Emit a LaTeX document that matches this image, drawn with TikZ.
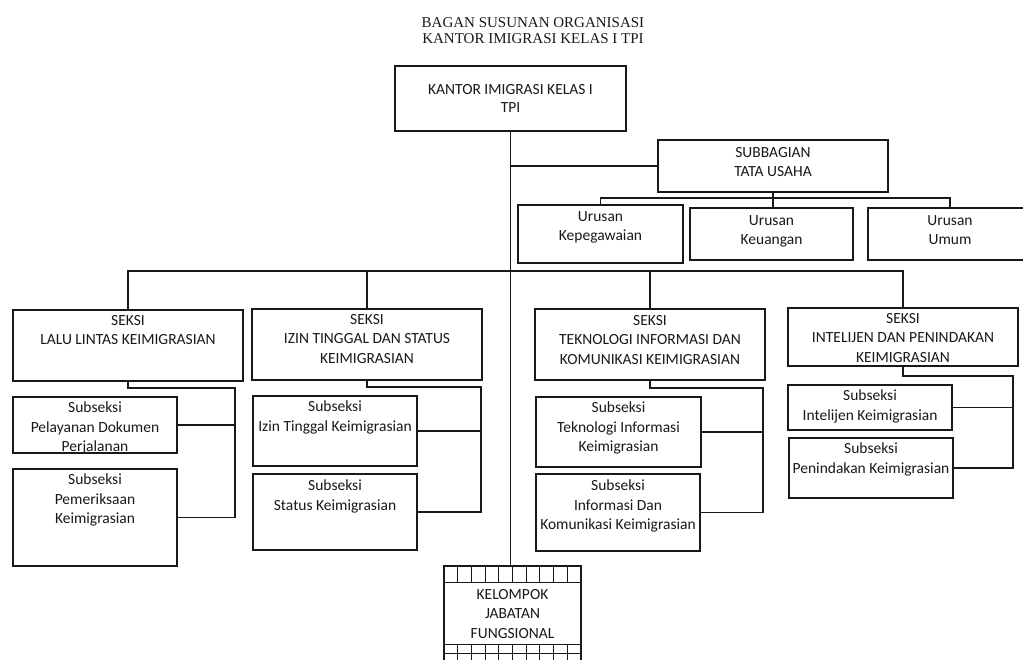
\documentclass[tikz,border=0pt]{standalone}
\usepackage{fontspec}
\setmainfont{Carlito}
\newfontfamily\titlefont{Liberation Serif}
\definecolor{ink}{gray}{0.1}
\newcommand\obox[7][5]{%
  \node[box, minimum width={(#5-#3)*1pt}, minimum height={(#6-#4)*1pt}] (#2) at ({(#3+#5)/2},{(#4+#6)/2}) {};
  \node[lbl] (#2-t) at ([yshift=-#1pt]#2.north) {#7};}
\begin{document}
\begin{tikzpicture}[x=1pt,y=-1pt,
  box/.style={draw=ink, line width=1.4pt, rectangle, inner sep=0pt, outer sep=0pt},
  lbl/.style={inner sep=0pt, align=center, anchor=north, text=ink, font=\fontsize{15.5}{19.5}\selectfont},
  wire/.style={draw=ink, line width=1.1pt},
  ttl/.style={inner sep=0pt, anchor=north, align=center, text=ink, font=\titlefont\fontsize{15}{15.5}\selectfont}]
\useasboundingbox (0,0) rectangle (1023,659);
\fill[white] (0,0) rectangle (1023,659);
\clip (0,0) rectangle (1023,659);

% title
\node[ttl] (title) at (533,17.5) {BAGAN SUSUNAN ORGANISASI\\KANTOR IMIGRASI KELAS I TPI};

% top
\node[box, minimum width=231pt, minimum height=65pt] (top) at (510.5,98.5) {};
\node[lbl, font=\fontsize{15.5}{18}\selectfont] (top-t) at ([yshift=-18pt]top.north) {KANTOR IMIGRASI KELAS I\\TPI};

% subbagian and urusan
\obox[7]{sub}{658}{140}{888}{192}{SUBBAGIAN\\TATA USAHA}
\obox[6]{kep}{518}{205}{683}{263}{Urusan\\Kepegawaian}
\obox[7]{keu}{690}{208}{853}{260}{Urusan\\Keuangan}
\obox[7]{umum}{868}{208}{1032}{260}{Urusan\\Umum}

% seksi
\obox{s1}{13}{310}{243}{381}{SEKSI\\LALU LINTAS KEIMIGRASIAN}
\obox{s2}{252}{309}{482}{380}{SEKSI\\IZIN TINGGAL DAN STATUS\\KEIMIGRASIAN}
\obox[6]{s3}{535}{309}{765}{380}{SEKSI\\TEKNOLOGI INFORMASI DAN\\KOMUNIKASI KEIMIGRASIAN}
\obox{s4}{788}{308}{1018}{366}{SEKSI\\INTELIJEN DAN PENINDAKAN\\KEIMIGRASIAN}

% subseksi
\obox{a1}{13}{397}{177}{453}{Subseksi\\Pelayanan Dokumen\\Perjalanan}
\obox{a2}{13}{469}{177}{566}{Subseksi\\Pemeriksaan\\Keimigrasian}
\obox{b1}{253}{396}{417}{466}{Subseksi\\Izin Tinggal Keimigrasian}
\obox[6]{b2}{253}{474}{417}{550}{Subseksi\\Status Keimigrasian}
\obox{c1}{536}{397}{701}{467}{Subseksi\\Teknologi Informasi\\Keimigrasian}
\obox[6]{c2}{536}{474}{700}{551}{Subseksi\\Informasi Dan\\Komunikasi Keimigrasian}
\obox{d1}{788}{385}{952}{430}{Subseksi\\Intelijen Keimigrasian}
\obox{d2}{789}{438}{953}{498}{Subseksi\\Penindakan Keimigrasian}

% kelompok
\node[box, minimum width=137pt, minimum height=120pt] (kel) at (512.5,626) {};
\foreach \k in {1,...,9} {
  \draw[wire, line width=1pt] ({444+\k*13.7},566) -- ({444+\k*13.7},582);
  \draw[wire, line width=1pt] ({444+\k*13.7},644) -- ({444+\k*13.7},686);
}
\draw[wire, line width=1pt] (kel.west |- 0,582) -- (kel.east |- 0,582);
\draw[wire, line width=1pt] (kel.west |- 0,644) -- (kel.east |- 0,644);
\draw[wire, line width=1pt] (kel.west |- 0,653) -- (kel.east |- 0,653);
\node[lbl] (kel-t) at (512.5,589) {KELOMPOK\\JABATAN\\FUNGSIONAL};

% connectors
\coordinate (mbus) at (511,271);
\coordinate (ubus) at (773,198);
\draw[wire] (top.south) -- (top.south |- kel.north);
\draw[wire] (top.south |- sub.west) -- (sub.west);
\draw[wire] (sub.south) -- (sub.south |- keu.north);
\draw[wire] (kep.north) -- (kep.north |- ubus) -- (umum.north |- ubus) -- (umum.north);
\draw[wire] (s1.north) -- (s1.north |- mbus) -- (s4.north |- mbus) -- (s4.north);
\draw[wire] (s2.north |- mbus) -- (s2.north);
\draw[wire] (s3.north |- mbus) -- (s3.north);

\coordinate (r1) at (235,388);
\coordinate (r2) at (481,387);
\coordinate (r3) at (763,388);
\coordinate (r4) at (1013,376);
\draw[wire] (s1.south) |- (r1) |- (a2.east);
\draw[wire] (a1.east) -- (a1.east -| r1);
\draw[wire] (s2.south) |- (r2) |- (b2.east);
\draw[wire] (b1.east) -- (b1.east -| r2);
\draw[wire] (s3.south) |- (r3) |- (c2.east);
\draw[wire] (c1.east) -- (c1.east -| r3);
\draw[wire] (s4.south) |- (r4) |- (d2.east);
\draw[wire] (d1.east) -- (d1.east -| r4);
\end{tikzpicture}
\end{document}
